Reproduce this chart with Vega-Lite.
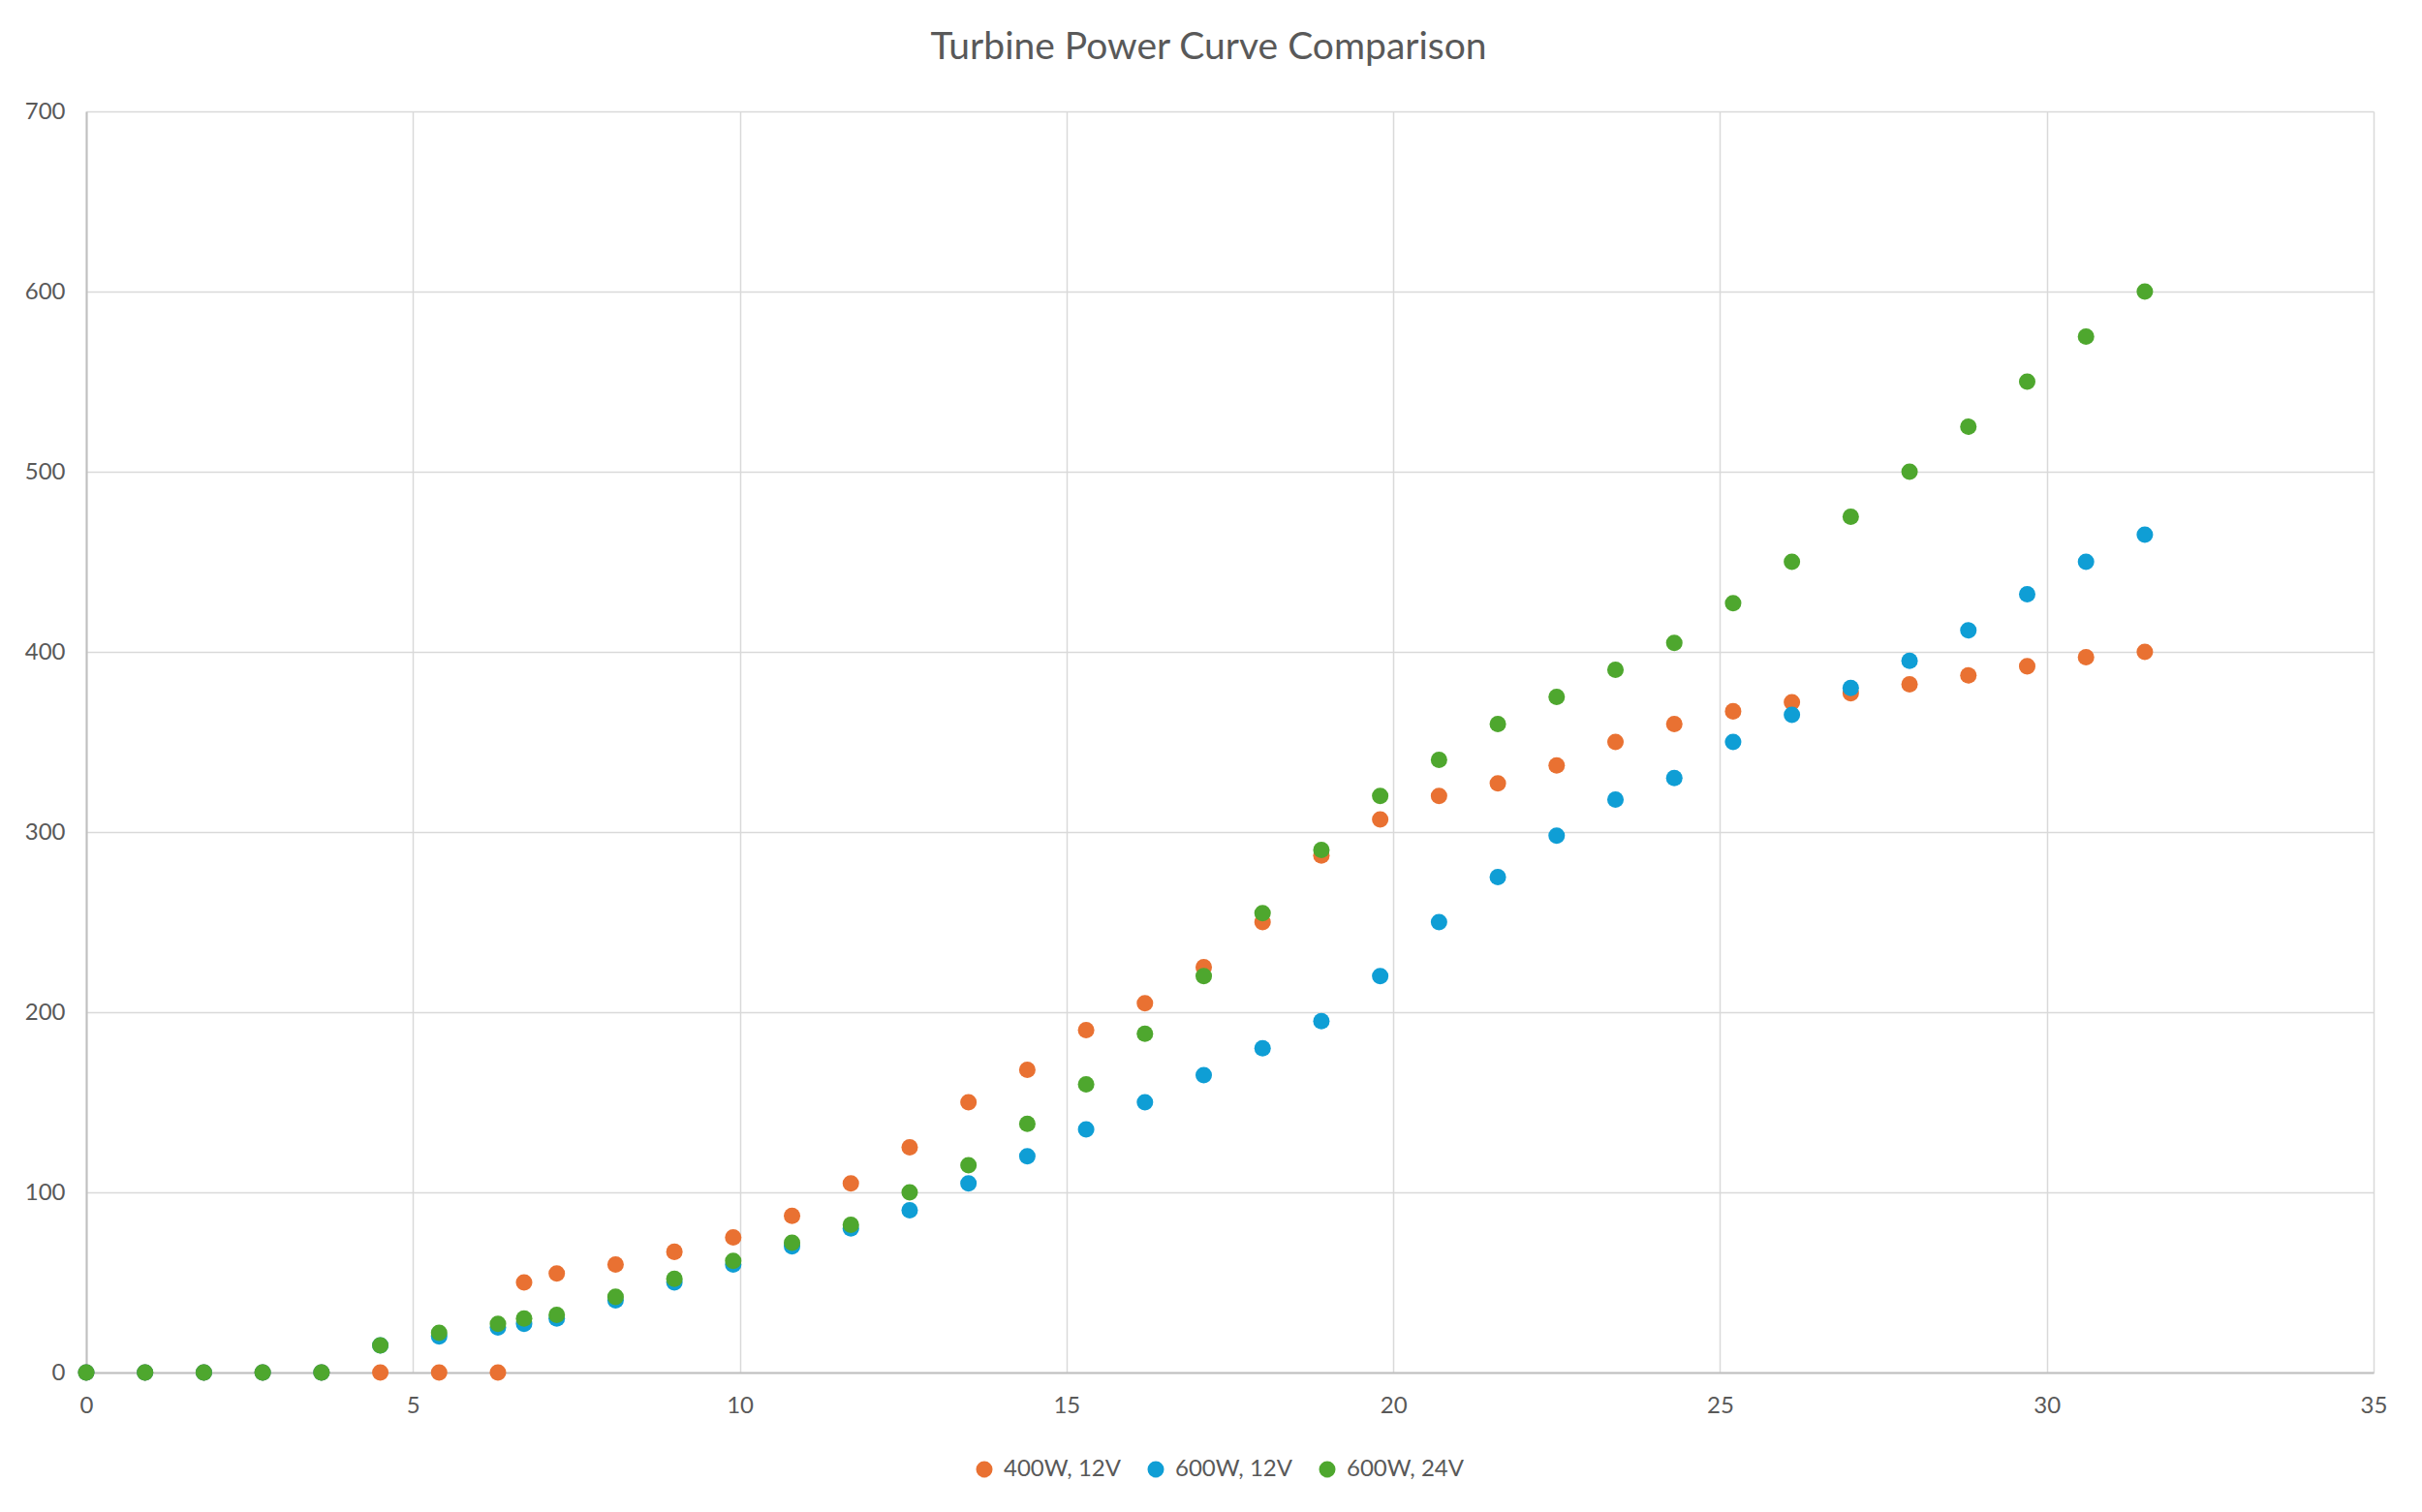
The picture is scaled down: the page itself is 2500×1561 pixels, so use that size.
{
  "$schema": "https://vega.github.io/schema/vega-lite/v6.json",
  "autosize": "none",
  "width": 2361,
  "height": 1302,
  "padding": {"left": 89, "top": 115, "right": 50, "bottom": 144},
  "background": "#ffffff",
  "title": {"text": "Turbine Power Curve Comparison", "anchor": "middle", "fontSize": 39, "fontWeight": "normal", "color": "#595959", "font": "Lato", "offset": 34, "dx": -22},
  "config": {
    "view": {"stroke": null},
    "axis": {"labelFont": "Lato", "labelFontSize": 24, "labelColor": "#595959", "gridColor": "#D9D9D9", "gridWidth": 1.5, "domainColor": "#BFBFBF", "domainWidth": 2, "ticks": false, "title": null, "labelFlush": false},
    "legend": {"labelFont": "Lato", "labelFontSize": 24, "labelColor": "#595959"}
  },
  "data": {"values": [
    {"s":"400W, 12V","x":0,"y":0},{"s":"400W, 12V","x":0.9,"y":0},{"s":"400W, 12V","x":1.8,"y":0},{"s":"400W, 12V","x":2.7,"y":0},{"s":"400W, 12V","x":3.6,"y":0},{"s":"400W, 12V","x":4.5,"y":0},{"s":"400W, 12V","x":5.4,"y":0},{"s":"400W, 12V","x":6.3,"y":0},{"s":"400W, 12V","x":6.7,"y":50},{"s":"400W, 12V","x":7.2,"y":55},{"s":"400W, 12V","x":8.1,"y":60},{"s":"400W, 12V","x":9.0,"y":67},{"s":"400W, 12V","x":9.9,"y":75},{"s":"400W, 12V","x":10.8,"y":87},{"s":"400W, 12V","x":11.7,"y":105},{"s":"400W, 12V","x":12.6,"y":125},{"s":"400W, 12V","x":13.5,"y":150},{"s":"400W, 12V","x":14.4,"y":168},{"s":"400W, 12V","x":15.3,"y":190},{"s":"400W, 12V","x":16.2,"y":205},{"s":"400W, 12V","x":17.1,"y":225},{"s":"400W, 12V","x":18.0,"y":250},{"s":"400W, 12V","x":18.9,"y":287},{"s":"400W, 12V","x":19.8,"y":307},{"s":"400W, 12V","x":20.7,"y":320},{"s":"400W, 12V","x":21.6,"y":327},{"s":"400W, 12V","x":22.5,"y":337},{"s":"400W, 12V","x":23.4,"y":350},{"s":"400W, 12V","x":24.3,"y":360},{"s":"400W, 12V","x":25.2,"y":367},{"s":"400W, 12V","x":26.1,"y":372},{"s":"400W, 12V","x":27.0,"y":377},{"s":"400W, 12V","x":27.9,"y":382},{"s":"400W, 12V","x":28.8,"y":387},{"s":"400W, 12V","x":29.7,"y":392},{"s":"400W, 12V","x":30.6,"y":397},{"s":"400W, 12V","x":31.5,"y":400},
    {"s":"600W, 12V","x":0,"y":0},{"s":"600W, 12V","x":0.9,"y":0},{"s":"600W, 12V","x":1.8,"y":0},{"s":"600W, 12V","x":2.7,"y":0},{"s":"600W, 12V","x":3.6,"y":0},{"s":"600W, 12V","x":4.5,"y":15},{"s":"600W, 12V","x":5.4,"y":20},{"s":"600W, 12V","x":6.3,"y":25},{"s":"600W, 12V","x":6.7,"y":27},{"s":"600W, 12V","x":7.2,"y":30},{"s":"600W, 12V","x":8.1,"y":40},{"s":"600W, 12V","x":9.0,"y":50},{"s":"600W, 12V","x":9.9,"y":60},{"s":"600W, 12V","x":10.8,"y":70},{"s":"600W, 12V","x":11.7,"y":80},{"s":"600W, 12V","x":12.6,"y":90},{"s":"600W, 12V","x":13.5,"y":105},{"s":"600W, 12V","x":14.4,"y":120},{"s":"600W, 12V","x":15.3,"y":135},{"s":"600W, 12V","x":16.2,"y":150},{"s":"600W, 12V","x":17.1,"y":165},{"s":"600W, 12V","x":18.0,"y":180},{"s":"600W, 12V","x":18.9,"y":195},{"s":"600W, 12V","x":19.8,"y":220},{"s":"600W, 12V","x":20.7,"y":250},{"s":"600W, 12V","x":21.6,"y":275},{"s":"600W, 12V","x":22.5,"y":298},{"s":"600W, 12V","x":23.4,"y":318},{"s":"600W, 12V","x":24.3,"y":330},{"s":"600W, 12V","x":25.2,"y":350},{"s":"600W, 12V","x":26.1,"y":365},{"s":"600W, 12V","x":27.0,"y":380},{"s":"600W, 12V","x":27.9,"y":395},{"s":"600W, 12V","x":28.8,"y":412},{"s":"600W, 12V","x":29.7,"y":432},{"s":"600W, 12V","x":30.6,"y":450},{"s":"600W, 12V","x":31.5,"y":465},
    {"s":"600W, 24V","x":0,"y":0},{"s":"600W, 24V","x":0.9,"y":0},{"s":"600W, 24V","x":1.8,"y":0},{"s":"600W, 24V","x":2.7,"y":0},{"s":"600W, 24V","x":3.6,"y":0},{"s":"600W, 24V","x":4.5,"y":15},{"s":"600W, 24V","x":5.4,"y":22},{"s":"600W, 24V","x":6.3,"y":27},{"s":"600W, 24V","x":6.7,"y":30},{"s":"600W, 24V","x":7.2,"y":32},{"s":"600W, 24V","x":8.1,"y":42},{"s":"600W, 24V","x":9.0,"y":52},{"s":"600W, 24V","x":9.9,"y":62},{"s":"600W, 24V","x":10.8,"y":72},{"s":"600W, 24V","x":11.7,"y":82},{"s":"600W, 24V","x":12.6,"y":100},{"s":"600W, 24V","x":13.5,"y":115},{"s":"600W, 24V","x":14.4,"y":138},{"s":"600W, 24V","x":15.3,"y":160},{"s":"600W, 24V","x":16.2,"y":188},{"s":"600W, 24V","x":17.1,"y":220},{"s":"600W, 24V","x":18.0,"y":255},{"s":"600W, 24V","x":18.9,"y":290},{"s":"600W, 24V","x":19.8,"y":320},{"s":"600W, 24V","x":20.7,"y":340},{"s":"600W, 24V","x":21.6,"y":360},{"s":"600W, 24V","x":22.5,"y":375},{"s":"600W, 24V","x":23.4,"y":390},{"s":"600W, 24V","x":24.3,"y":405},{"s":"600W, 24V","x":25.2,"y":427},{"s":"600W, 24V","x":26.1,"y":450},{"s":"600W, 24V","x":27.0,"y":475},{"s":"600W, 24V","x":27.9,"y":500},{"s":"600W, 24V","x":28.8,"y":525},{"s":"600W, 24V","x":29.7,"y":550},{"s":"600W, 24V","x":30.6,"y":575},{"s":"600W, 24V","x":31.5,"y":600}
  ]},
  "mark": {"type": "circle", "size": 290, "opacity": 1},
  "encoding": {
    "x": {"field": "x", "type": "quantitative", "scale": {"domain": [0, 35], "nice": false, "zero": true}, "axis": {"values": [0, 5, 10, 15, 20, 25, 30, 35], "labelPadding": 22}},
    "y": {"field": "y", "type": "quantitative", "scale": {"domain": [0, 700], "nice": false}, "axis": {"values": [0, 100, 200, 300, 400, 500, 600, 700], "labelPadding": 22}},
    "color": {
      "field": "s", "type": "nominal",
      "scale": {"domain": ["400W, 12V", "600W, 12V", "600W, 24V"], "range": ["#E97132", "#0F9ED5", "#4EA72E"]},
      "legend": {"title": null, "orient": "none", "direction": "horizontal", "legendX": 915, "legendY": 1390, "symbolType": "circle", "symbolSize": 290, "symbolOpacity": 1, "columnPadding": 24, "labelOffset": 8}
    }
  }
}
